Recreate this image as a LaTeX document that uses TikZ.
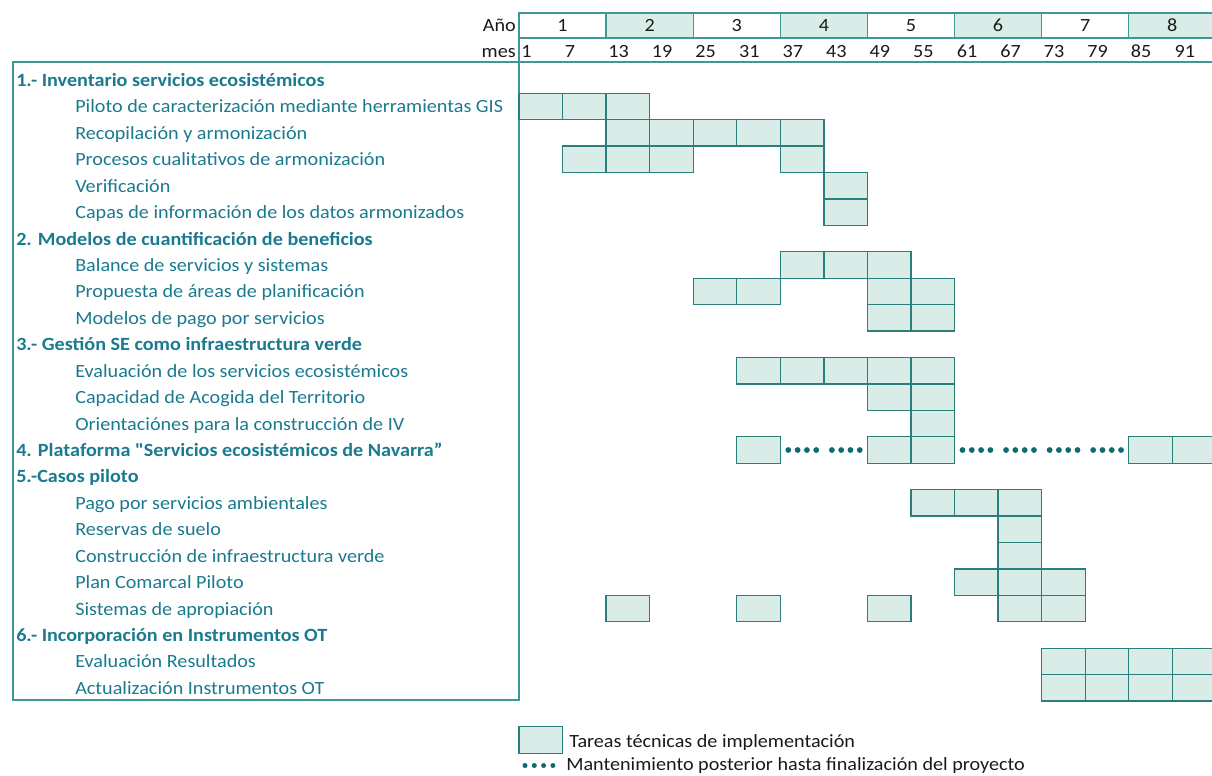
\documentclass[tikz,border=0pt]{standalone}
\usepackage{fontspec}
\newfontfamily\chartfont{Carlito}[Ligatures=TeXOff,FakeStretch=1.08]
\usepackage{tikz}

\definecolor{frameteal}{HTML}{3E9994}
\definecolor{cellline}{HTML}{2A7F7B}
\definecolor{cellfill}{HTML}{D9ECE7}
\definecolor{labelteal}{HTML}{1A7A8E}
\definecolor{dotteal}{HTML}{0E6B72}
\definecolor{headtext}{HTML}{1A1A1A}

% column centre and row baseline (in pixels)
\newcommand{\colx}[1]{519+43.55*(#1+0.5)}
\newcommand{\rowy}[1]{80+26.43*(#1-1)}
\newcommand{\rowb}[1]{86.5+26.43*(#1-1)}

\begin{document}
\begin{tikzpicture}[x=0.75pt,y=-0.75pt,
		font=\chartfont\fontsize{14}{16}\selectfont,
		cell/.style={draw=cellline,fill=cellfill,line width=1pt,minimum width=32.66pt,minimum height=19.82pt,inner sep=0pt,outer sep=0pt},
		yearbox/.style={draw=frameteal,line width=1pt,minimum width=65.33pt,minimum height=18.75pt,inner sep=0pt,outer sep=0pt,text=headtext},
		headlbl/.style={text=headtext,inner sep=0pt},
		section/.style={anchor=base west,text=labelteal,font=\chartfont\fontsize{14}{16}\selectfont\bfseries,inner sep=0pt},
		task/.style={anchor=base west,text=labelteal,inner sep=0pt},
		legendtxt/.style={anchor=base west,text=headtext,inner sep=0pt}]
		
		\clip (0,0) rectangle (1212,775);
		
		%------------------------------------------------------
		% header: years and months
		\node[headlbl,anchor=base east] (ano) at (516,31.5) {Año};
		\node[headlbl,anchor=base east] (mes) at (516,57.5) {mes};
		
		\foreach \y in {1,...,8} {
			\pgfmathsetmacro{\yx}{519+87.1*(\y-0.5)}
			\ifodd\y
				\node[yearbox] (y\y) at (\yx,25.5) {\y};
			\else
				\node[yearbox,fill=cellfill] (y\y) at (\yx,25.5) {\y};
			\fi
		}
		
		\foreach \m [count=\c from 0] in {1,7,13,19,25,31,37,43,49,55,61,67,73,79,85,91} {
			\node[headlbl,anchor=base west] (m\c) at ({519+43.55*\c+2},57.5) {\m};
		}
		%------------------------------------------------------
		
		
		%------------------------------------------------------
		% frame
		\draw[frameteal,line width=1.5pt] (13,62) -- (1212,62);
		\draw[frameteal,line width=1.2pt] (13,62) rectangle (519,700);
		\draw[frameteal,line width=1.2pt] (y1.north west) -- (519,700);
		%------------------------------------------------------
		
		
		%------------------------------------------------------
		% 1.- inventario
		\node[section] (s1) at (16,{\rowb{1}}) {1.- Inventario servicios ecosistémicos};
		\node[task] (t2) at (75,{\rowb{2}}) {Piloto de caracterización mediante herramientas GIS};
		\node[task] (t3) at (75,{\rowb{3}}) {Recopilación y armonización};
		\node[task] (t4) at (75,{\rowb{4}}) {Procesos cualitativos de armonización};
		\node[task] (t5) at (75,{\rowb{5}}) {Verificación};
		\node[task] (t6) at (75,{\rowb{6}}) {Capas de información de los datos armonizados};
		
		\foreach \c in {0,1,2} \node[cell] (c2-\c) at ({\colx{\c}},{\rowy{2}}) {};
		\foreach \c in {2,...,6} \node[cell] (c3-\c) at ({\colx{\c}},{\rowy{3}}) {};
		\foreach \c in {1,2,3,6} \node[cell] (c4-\c) at ({\colx{\c}},{\rowy{4}}) {};
		\node[cell] (c5-7) at ({\colx{7}},{\rowy{5}}) {};
		\node[cell] (c6-7) at ({\colx{7}},{\rowy{6}}) {};
		%------------------------------------------------------
		
		
		%------------------------------------------------------
		% 2. modelos
		\node[section] (s2) at (16,{\rowb{7}}) {2. Modelos de cuantificación de beneficios};
		\node[task] (t8) at (75,{\rowb{8}}) {Balance de servicios y sistemas};
		\node[task] (t9) at (75,{\rowb{9}}) {Propuesta de áreas de planificación};
		\node[task] (t10) at (75,{\rowb{10}}) {Modelos de pago por servicios};
		
		\foreach \c in {6,7,8} \node[cell] (c8-\c) at ({\colx{\c}},{\rowy{8}}) {};
		\foreach \c in {4,5,8,9} \node[cell] (c9-\c) at ({\colx{\c}},{\rowy{9}}) {};
		\foreach \c in {8,9} \node[cell] (c10-\c) at ({\colx{\c}},{\rowy{10}}) {};
		%------------------------------------------------------
		
		
		%------------------------------------------------------
		% 3.- gestion SE
		\node[section] (s3) at (16,{\rowb{11}}) {3.- Gestión SE como infraestructura verde};
		\node[task] (t12) at (75,{\rowb{12}}) {Evaluación de los servicios ecosistémicos};
		\node[task] (t13) at (75,{\rowb{13}}) {Capacidad de Acogida del Territorio};
		\node[task] (t14) at (75,{\rowb{14}}) {Orientaciónes para la construcción de IV};
		
		\foreach \c in {5,...,9} \node[cell] (c12-\c) at ({\colx{\c}},{\rowy{12}}) {};
		\foreach \c in {8,9} \node[cell] (c13-\c) at ({\colx{\c}},{\rowy{13}}) {};
		\node[cell] (c14-9) at ({\colx{9}},{\rowy{14}}) {};
		%------------------------------------------------------
		
		
		%------------------------------------------------------
		% 4. plataforma
		\node[section] (s4) at (16,{\rowb{15}}) {4. Plataforma "Servicios ecosistémicos de Navarra”};
		
		\foreach \c in {5,8,9,14,15} \node[cell] (c15-\c) at ({\colx{\c}},{\rowy{15}}) {};
		\foreach \c in {6,7,10,11,12,13}
			\foreach \k in {0,...,3}
				\fill[dotteal] ({519+43.55*\c+8+9.3*\k},{\rowy{15}}) circle (2.9);
		%------------------------------------------------------
		
		
		%------------------------------------------------------
		% 5.- casos piloto
		\node[section] (s5) at (16,{\rowb{16}}) {5.-Casos piloto};
		\node[task] (t17) at (75,{\rowb{17}}) {Pago por servicios ambientales};
		\node[task] (t18) at (75,{\rowb{18}}) {Reservas de suelo};
		\node[task] (t19) at (75,{\rowb{19}}) {Construcción de infraestructura verde};
		\node[task] (t20) at (75,{\rowb{20}}) {Plan Comarcal Piloto};
		\node[task] (t21) at (75,{\rowb{21}}) {Sistemas de apropiación};
		
		\foreach \c in {9,10,11} \node[cell] (c17-\c) at ({\colx{\c}},{\rowy{17}}) {};
		\node[cell] (c18-11) at ({\colx{11}},{\rowy{18}}) {};
		\node[cell] (c19-11) at ({\colx{11}},{\rowy{19}}) {};
		\foreach \c in {10,11,12} \node[cell] (c20-\c) at ({\colx{\c}},{\rowy{20}}) {};
		\foreach \c in {2,5,8,11,12} \node[cell] (c21-\c) at ({\colx{\c}},{\rowy{21}}) {};
		%------------------------------------------------------
		
		
		%------------------------------------------------------
		% 6.- incorporacion
		\node[section] (s6) at (16,{\rowb{22}}) {6.- Incorporación en Instrumentos OT};
		\node[task] (t23) at (75,{\rowb{23}}) {Evaluación Resultados};
		\node[task] (t24) at (75,{\rowb{24}}) {Actualización Instrumentos OT};
		
		\foreach \c in {12,...,15} \node[cell] (c23-\c) at ({\colx{\c}},{\rowy{23}}) {};
		\foreach \c in {12,...,15} \node[cell] (c24-\c) at ({\colx{\c}},{\rowy{24}}) {};
		%------------------------------------------------------
		
		
		%------------------------------------------------------
		% legend
		\node[cell] (leg1) at (540.8,740) {};
		\node[legendtxt] (legtxt1) at (569,747) {Tareas técnicas de implementación};
		
		\foreach \k in {0,...,3}
			\fill[dotteal] ({525+9.3*\k},765.5) circle (2.5);
		\node[legendtxt] (legtxt2) at (566,770.5) {Mantenimiento posterior hasta finalización del proyecto};
		%------------------------------------------------------
		
	\end{tikzpicture}
\end{document}
